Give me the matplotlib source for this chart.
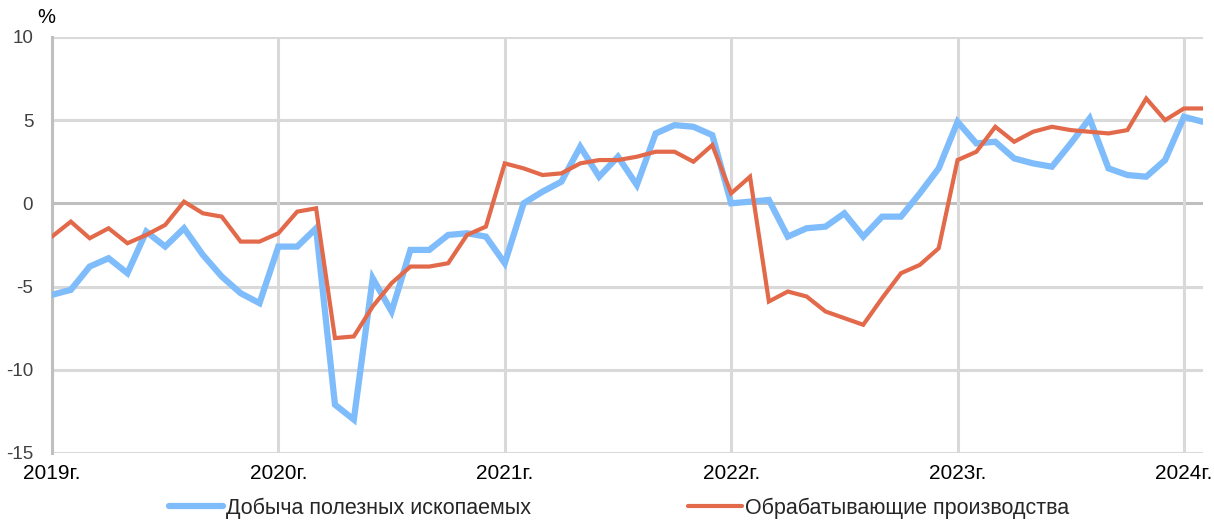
import matplotlib
matplotlib.use('Agg')
import matplotlib.pyplot as plt

plt.rcParams['font.family'] = ['Liberation Sans', 'DejaVu Sans']
plt.rcParams['axes.unicode_minus'] = False

# monthly values, Jan 2019 .. Feb 2024, % y/y
mining = [-5.5, -5.2, -3.8, -3.3, -4.2, -1.7, -2.6, -1.5, -3.1, -4.4, -5.4, -6.0,
          -2.6, -2.6, -1.5, -12.1, -13.0, -4.5, -6.5, -2.8, -2.8, -1.9, -1.8, -2.0,
          -3.6, 0.0, 0.7, 1.3, 3.4, 1.6, 2.8, 1.1, 4.2, 4.7, 4.6, 4.1,
          0.0, 0.1, 0.2, -2.0, -1.5, -1.4, -0.6, -2.0, -0.8, -0.8, 0.6, 2.1,
          4.9, 3.6, 3.7, 2.7, 2.4, 2.2, 3.6, 5.1, 2.1, 1.7, 1.6, 2.6,
          5.2, 4.9]
manufacturing = [-2.0, -1.1, -2.1, -1.5, -2.4, -1.9, -1.3, 0.1, -0.6, -0.8, -2.3, -2.3,
                 -1.8, -0.5, -0.3, -8.1, -8.0, -6.2, -4.8, -3.8, -3.8, -3.6, -1.9, -1.4,
                 2.4, 2.1, 1.7, 1.8, 2.4, 2.6, 2.6, 2.8, 3.1, 3.1, 2.5, 3.5,
                 0.6, 1.6, -5.9, -5.3, -5.6, -6.5, -6.9, -7.3, -5.7, -4.2, -3.7, -2.7,
                 2.6, 3.1, 4.6, 3.7, 4.3, 4.6, 4.4, 4.3, 4.2, 4.4, 6.3, 5.0,
                 5.7, 5.7]
months = list(range(len(mining)))
year_labels = ['2019г.', '2020г.', '2021г.', '2022г.', '2023г.', '2024г.']
year_ticks = [12 * k for k in range(len(year_labels))]
y_ticks = [-15, -10, -5, 0, 5, 10]

fig = plt.figure(figsize=(12.14, 5.2), dpi=100)
ax = fig.add_axes([0.0428, 0.129, 0.948, 0.8])

grid_col = '#d9d9d9'
for t in y_ticks:
    ax.axhline(t, color='#bfbfbf' if t == 0 else grid_col, lw=2.2, zorder=1)
for t in year_ticks:
    ax.axvline(t, color=grid_col, lw=2.2, zorder=1)

ax.plot(months, mining, color='#7fbcfb', lw=4.5, solid_joinstyle='miter',
        solid_capstyle='round', zorder=3, label='Добыча полезных ископаемых')
ax.plot(months, manufacturing, color='#e2694a', lw=3.0, solid_joinstyle='miter',
        solid_capstyle='round', zorder=4, label='Обрабатывающие производства')

ax.set_xlim(0, 61)
ax.set_ylim(-15, 10)
ax.set_xticks(year_ticks)
ax.set_xticklabels(year_labels)
ax.set_yticks(y_ticks)
ax.tick_params(length=0)
ax.tick_params(axis='y', pad=13.5, labelsize=13.5, colors='#404040')
ax.tick_params(axis='x', pad=8, labelsize=15, colors='#000000')
for s in ['top', 'right', 'bottom']:
    ax.spines[s].set_visible(False)
ax.spines['left'].set_color('#bfbfbf')
ax.spines['left'].set_linewidth(2.2)

fig.text(0.031, 0.955, '%', fontsize=14.5, color='#000000')

leg = fig.legend(loc='center', bbox_to_anchor=(0.51, 0.023), ncol=2, frameon=False,
                 fontsize=15.5, handlelength=2.5, handletextpad=0.15, columnspacing=7.3)
for t in leg.get_texts():
    t.set_color('#262626')

fig.savefig('out.png', dpi=100)
